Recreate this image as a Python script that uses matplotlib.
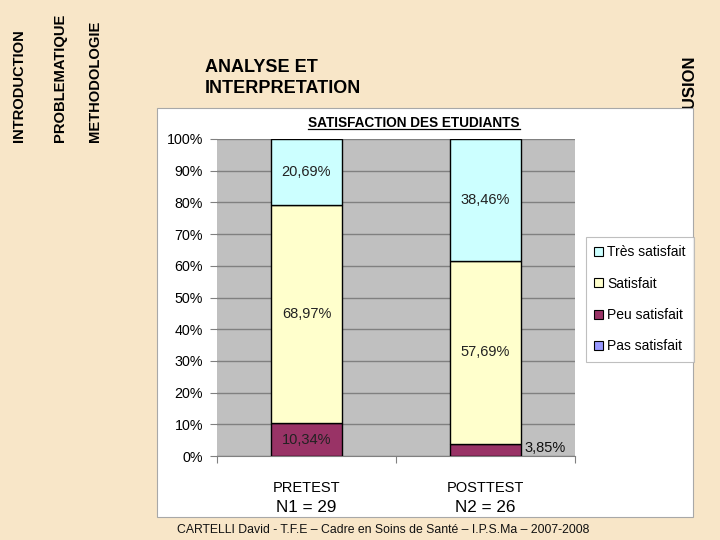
import matplotlib
matplotlib.use('Agg')
import matplotlib.pyplot as plt
from matplotlib.patches import Rectangle, Patch
from matplotlib.lines import Line2D
import numpy as np

# data
groups = ['PRETEST', 'POSTTEST']
effectifs = ['N1 = 29', 'N2 = 26']
pas_satisfait = [0.0, 0.0]
peu_satisfait = [10.34, 3.85]
satisfait = [68.97, 57.69]
tres_satisfait = [20.69, 38.46]
series_names = ['Pas satisfait', 'Peu satisfait', 'Satisfait', 'Très satisfait']
series_colors = ['#9999FF', '#993366', '#FFFFCC', '#CCFFFF']

arial = ['Liberation Sans', 'DejaVu Sans']

fig = plt.figure(figsize=(7.2, 5.4), dpi=100)
fig.patch.set_facecolor('#F8E6C8')

# side menu of the slide
for txt, x in [('INTRODUCTION', 19), ('PROBLEMATIQUE', 60), ('METHODOLOGIE', 95)]:
    fig.text(x / 720, 1 - 142 / 540, txt, rotation=90, ha='center', va='bottom',
             fontsize=10.6, fontweight='bold', family=arial, color='black')
fig.text(690 / 720, 1 - 167 / 540, 'CONCLUSION', rotation=90, ha='center', va='bottom',
         fontsize=12, fontweight='bold', family=arial, color='black', zorder=0.5)

fig.text(205 / 720, 1 - 59 / 540, 'ANALYSE ET\nINTERPRETATION', ha='left', va='top',
         fontsize=13, fontweight='bold', family=arial, linespacing=1.3)

# white chart panel
panel = Rectangle((157 / 720, 1 - 517 / 540), 536 / 720, 409 / 540,
                  transform=fig.transFigure, facecolor='white', edgecolor='#A8A8A8',
                  linewidth=0.8, zorder=1)
fig.patches.append(panel)

ax = fig.add_axes([217 / 720, 1 - 456 / 540, 358 / 720, 317 / 540])
ax.set_zorder(2)
ax.set_facecolor('#C0C0C0')

x = np.arange(len(groups))
w = 0.4
values = [pas_satisfait, peu_satisfait, satisfait, tres_satisfait]
bottom = np.zeros(len(groups))
for vals, col in zip(values, series_colors):
    vals = np.array(vals)
    ax.bar(x, vals, w, bottom=bottom, color=col, edgecolor='black', linewidth=1, zorder=3)
    for i, v in enumerate(vals):
        if v <= 0:
            continue
        lab = ('%.2f%%' % v).replace('.', ',')
        if v < 5:
            ax.text(x[i] + w / 2 + 0.015, bottom[i] + v / 2 + 0.6, lab, ha='left', va='center',
                    fontsize=10.5, family=arial, color='#111111', zorder=4)
        else:
            ax.text(x[i], bottom[i] + v / 2, lab, ha='center', va='center',
                    fontsize=10.5, family=arial, color='#222222', zorder=4)
    bottom = bottom + vals

ax.set_xlim(-0.5, 1.5)
ax.set_ylim(0, 100)
ax.set_yticks(np.arange(0, 101, 10))
ax.set_yticklabels(['%d%%' % t for t in range(0, 101, 10)], family=arial, fontsize=10.3)
ax.yaxis.grid(True, color='#808080', linewidth=1, zorder=1)
ax.set_axisbelow(True)
ax.set_xticks([-0.5, 0.5, 1.5])
ax.set_xticklabels([])
ax.set_xticks(x, minor=True)
ax.set_xticklabels(groups, minor=True, family=arial, fontsize=10.5)
ax.tick_params(axis='x', which='minor', length=0, pad=18)
ax.tick_params(axis='x', which='major', length=5, color='#808080')
ax.tick_params(axis='y', length=5, color='#808080', pad=5)
for s in ['top', 'right', 'left']:
    ax.spines[s].set_visible(False)
ax.spines['bottom'].set_color('#808080')

for i, n in enumerate(effectifs):
    ax.text(x[i], -0.162, n, transform=ax.get_xaxis_transform(), ha='center', va='center',
            fontsize=12.3, family=arial)

handles = [Patch(facecolor=c, edgecolor='black', linewidth=0.8) for c in series_colors]
leg = ax.legend(handles[::-1], series_names[::-1], loc='upper left',
                bbox_to_anchor=(586 / 720, 1 - 237 / 540), bbox_transform=fig.transFigure,
                prop={'family': arial, 'size': 10}, frameon=True, fancybox=False,
                edgecolor='#B0B0B0', handlelength=0.6, handleheight=0.6, handletextpad=0.3,
                labelspacing=1.25, borderpad=0.6, borderaxespad=0)
leg.get_frame().set_linewidth(0.8)

# chart title, underlined
title = fig.text(414 / 720, 1 - 123 / 540, 'SATISFACTION DES ETUDIANTS', ha='center', va='center',
                 fontsize=9.8, fontweight='bold', family=arial, zorder=3)
fig.canvas.draw()
bb = title.get_window_extent().transformed(fig.transFigure.inverted())
fig.lines.append(Line2D([bb.x0, bb.x1], [bb.y0 + 0.002, bb.y0 + 0.002], transform=fig.transFigure,
                        color='black', linewidth=0.9, zorder=3))

fig.text(383 / 720, 1 - 530 / 540,
         'CARTELLI David - T.F.E – Cadre en Soins de Santé – I.P.S.Ma – 2007-2008',
         ha='center', va='center', fontsize=8.8, family=arial, color='#111111')

fig.savefig('out.png', dpi=100, facecolor=fig.get_facecolor())
